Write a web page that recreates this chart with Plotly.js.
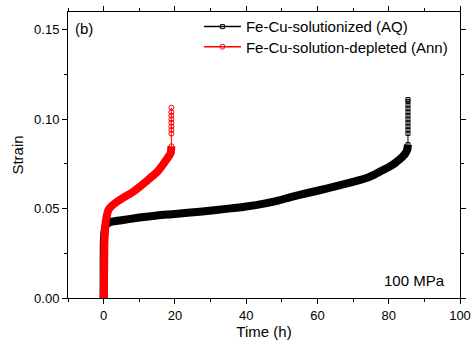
<!DOCTYPE html>
<html>
<head>
<meta charset="utf-8">
<script src="https://cdn.plot.ly/plotly-3.0.1.min.js"></script>
<style>html,body{margin:0;padding:0;background:#fff}#chart{width:471px;height:342px}</style>
</head>
<body>
<div id="chart"></div>
<script>
// Fe-Cu-solutionized (AQ) creep curve
var aqTime   = [0, 0, 0.05, 0.2, 0.5, 1.0, 2, 5, 10, 15, 20, 27, 35, 40, 45, 49, 52, 55, 60, 65, 70, 74, 76, 78, 80, 82, 83, 84, 84.7, 85.2, 85.4];
var aqStrain = [0.000, 0.015, 0.030, 0.036, 0.040, 0.0415, 0.0425, 0.0435, 0.0450, 0.0462, 0.0470, 0.0483, 0.0500, 0.0512, 0.0528, 0.0545, 0.0562, 0.0577, 0.0600, 0.0624, 0.0650, 0.0673, 0.0690, 0.0712, 0.0732, 0.0758, 0.0775, 0.0793, 0.0810, 0.0830, 0.0858];
// AQ rupture points
var aqTailTime   = [85.4, 85.4, 85.4, 85.4, 85.4, 85.4, 85.4, 85.4, 85.4, 85.4, 85.4, 85.4];
var aqTailStrain = [0.0858, 0.092, 0.094, 0.096, 0.098, 0.100, 0.102, 0.104, 0.106, 0.108, 0.110, 0.111];

// Fe-Cu-solution-depleted (Ann) creep curve
var annTime   = [0, 0.1, 0.15, 0.2, 0.3, 0.5, 0.8, 1.3, 2, 3.5, 5, 8, 10, 11.5, 13, 15, 16.6, 17.3, 18, 18.8, 19.0];
var annStrain = [0, 0.010, 0.020, 0.030, 0.036, 0.041, 0.045, 0.049, 0.051, 0.0535, 0.0555, 0.059, 0.062, 0.0645, 0.067, 0.0705, 0.0745, 0.0765, 0.0785, 0.081, 0.0849];
// Ann rupture points
var annTailTime   = [19.0, 19.0, 19.0, 19.0, 19.0, 19.0, 19.0, 19.0, 19.0];
var annTailStrain = [0.0849, 0.092, 0.094, 0.096, 0.098, 0.100, 0.102, 0.104, 0.1065];

var xTicks = [0, 20, 40, 60, 80, 100];
var yTicks = [0.00, 0.05, 0.10, 0.15];

var FONT = 'Liberation Sans, Arial, sans-serif';
var BLACK = '#000000', RED = '#ff0000';

var traces = [
  {x: aqTime, y: aqStrain, mode: 'lines', line: {color: BLACK, width: 8, shape: 'spline', smoothing: 0.6}, showlegend: false, hoverinfo: 'skip'},
  {x: aqTailTime, y: aqTailStrain, mode: 'lines+markers', line: {color: BLACK, width: 1},
   marker: {symbol: 'square-open', size: 4, color: BLACK, line: {width: 1}}, showlegend: false},
  {x: annTime, y: annStrain, mode: 'lines', line: {color: RED, width: 8, shape: 'spline', smoothing: 0.6}, showlegend: false, hoverinfo: 'skip'},
  {x: annTailTime, y: annTailStrain, mode: 'lines+markers', line: {color: RED, width: 1},
   marker: {symbol: 'circle-open', size: 5, color: RED, line: {width: 1}}, showlegend: false},
  // legend entries
  {x: [null], y: [null], name: 'Fe-Cu-solutionized (AQ)', mode: 'lines+markers', line: {color: BLACK, width: 1.5},
   marker: {symbol: 'square-open', size: 4, color: BLACK, line: {width: 1}}, legend: 'legend'},
  {x: [null], y: [null], name: 'Fe-Cu-solution-depleted (Ann)', mode: 'lines+markers', line: {color: RED, width: 1.5},
   marker: {symbol: 'circle-open', size: 5, color: RED, line: {width: 1}}, legend: 'legend2'}
];

var axisCommon = {
  showline: true, linecolor: BLACK, linewidth: 1, mirror: 'allticks',
  ticks: 'outside', ticklen: 5, tickwidth: 1, tickcolor: BLACK,
  showgrid: false, zeroline: false,
  tickfont: {family: FONT, size: 13, color: BLACK}
};

function legendAt(yc) {
  return {x: 0.334, y: yc, xanchor: 'left', yanchor: 'middle', bgcolor: 'rgba(0,0,0,0)',
          font: {family: FONT, size: 15, color: BLACK}, itemwidth: 37};
}

var layout = {
  width: 471, height: 342,
  margin: {l: 68, r: 11, t: 10, b: 44},
  paper_bgcolor: '#fff', plot_bgcolor: '#fff',
  font: {family: FONT, color: BLACK},
  xaxis: Object.assign({}, axisCommon, {
    range: [-10, 100], tickvals: xTicks, ticktext: xTicks.map(String),
    minor: {dtick: 10, tick0: 0, ticks: 'outside', ticklen: 3, tickcolor: BLACK},
    title: {text: 'Time (h)', font: {family: FONT, size: 15, color: BLACK}, standoff: 2}
  }),
  yaxis: Object.assign({}, axisCommon, {
    range: [0, 0.16], tickvals: yTicks, ticktext: yTicks.map(function(v){return v.toFixed(2);}),
    minor: {dtick: 0.025, tick0: 0, ticks: 'outside', ticklen: 3, tickcolor: BLACK},
    title: {text: 'Strain', font: {family: FONT, size: 15, color: BLACK}, standoff: 6}
  }),
  legend: legendAt(0.948),
  legend2: legendAt(0.878),
  annotations: [
    {xref: 'paper', yref: 'paper', x: 0.012, y: 0.941, xanchor: 'left', yanchor: 'middle', showarrow: false,
     text: '(b)', font: {family: FONT, size: 15, color: BLACK}},
    {xref: 'paper', yref: 'paper', x: 0.966, y: 0.06, xanchor: 'right', yanchor: 'middle', showarrow: false,
     text: '100 MPa', font: {family: FONT, size: 15, color: BLACK}}
  ]
};

Plotly.newPlot('chart', traces, layout, {displayModeBar: false, staticPlot: true});
</script>
</body>
</html>
